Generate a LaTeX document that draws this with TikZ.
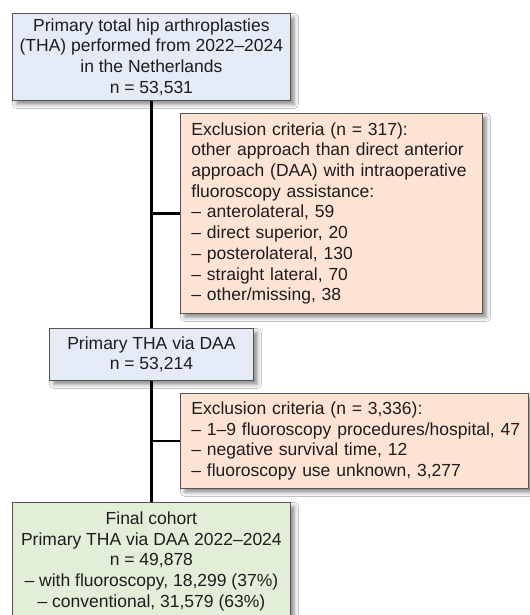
\documentclass[tikz,border=0pt]{standalone}
\usepackage{fontspec}
\setmainfont{Liberation Sans}
\usetikzlibrary{shadows.blur}
\definecolor{boxblue}{HTML}{E4EBF6}
\definecolor{boxpeach}{HTML}{FDE3D4}
\definecolor{boxgreen}{HTML}{E3EED8}
\definecolor{edgegray}{HTML}{555555}
\definecolor{txt}{HTML}{1E1C1C}
\tikzset{
  box/.style={draw=edgegray, line width=0.8bp, text=txt,
    font=\fontsize{17.5bp}{20.7bp}\selectfont, anchor=north west, inner sep=0pt,
    blur shadow={shadow xshift=4bp, shadow yshift=-4bp, shadow blur radius=4bp, shadow opacity=45}},
  centerbox/.style={box, align=center},
  leftbox/.style={box, align=left, inner xsep=11bp},
  conn/.style={line width=2.8bp, black}
}
\begin{document}
\begin{tikzpicture}[x=1bp, y=-1bp]
\useasboundingbox (0,0) rectangle (530,615);
\fill[white] (0,0) rectangle (530,615);

\node[centerbox, fill=boxblue, minimum width=278bp, minimum height=87bp] (b1) at (12,13)
  {Primary total hip arthroplasties\\(THA) performed from 2022–2024\\in the Netherlands\\n = 53,531};
\node[leftbox, fill=boxpeach, text width=280bp, minimum height=200bp] (b3) at (180,113)
  {Exclusion criteria (n = 317):\\other approach than direct anterior\\approach (DAA) with intraoperative\\fluoroscopy assistance:\\– anterolateral, 59\\– direct superior, 20\\– posterolateral, 130\\– straight lateral, 70\\– other/missing, 38};
\node[centerbox, fill=boxblue, minimum width=204bp, minimum height=52bp] (b2) at (49,328)
  {Primary THA via DAA\\n = 53,214};
\node[leftbox, fill=boxpeach, text width=326bp, minimum height=95bp] (b4) at (180,393)
  {Exclusion criteria (n = 3,336):\\\mbox{– 1–9 fluoroscopy procedures/hospital, 47}\\– negative survival time, 12\\– fluoroscopy use unknown, 3,277};
\node[centerbox, fill=boxgreen, minimum width=278bp, minimum height=118bp] (b5) at (12,502)
  {Final cohort\\Primary THA via DAA 2022–2024\\n = 49,878\\– with fluoroscopy, 18,299 (37\%)\\– conventional, 31,579 (63\%)};

\draw[conn] (b1.south) -- (b2.north);
\draw[conn] (b2.south) -- (b5.north);
\draw[conn] (b1.south |- b3.west) -- (b3.west);
\draw[conn] (b2.south |- b4.west) -- (b4.west);
\end{tikzpicture}
\end{document}
